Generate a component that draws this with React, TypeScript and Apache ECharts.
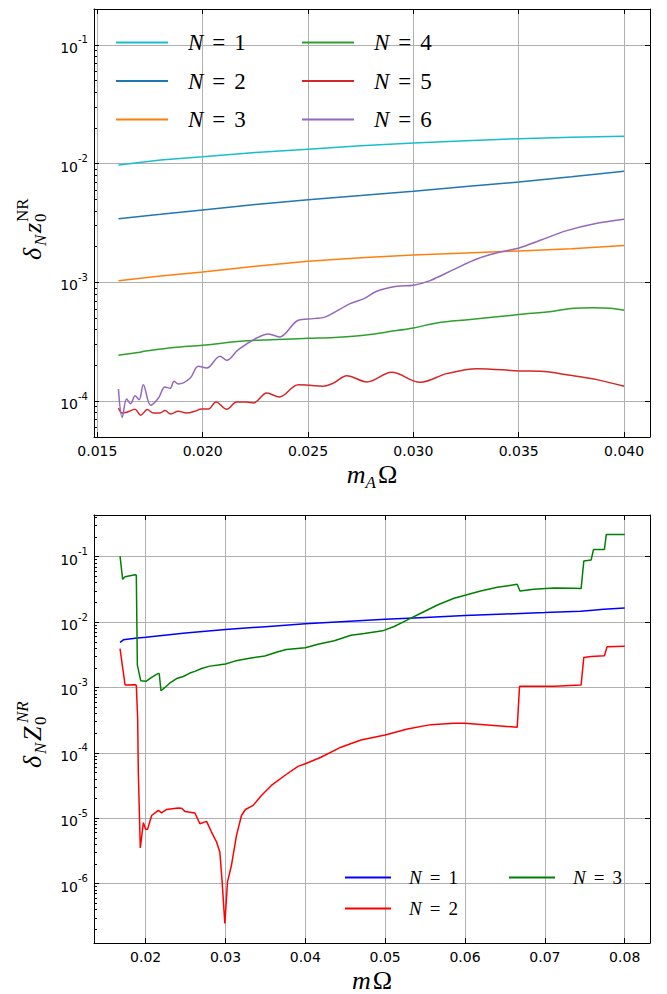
import React, { useEffect, useRef } from 'react';
import * as echarts from 'echarts';

// ---------- data: top panel (x = m_A Ω, y = δ_N z_0^NR) ----------
const topN1: [number, number][] = [
  [0.016, 0.00975], [0.018, 0.0107], [0.020, 0.0114], [0.0225, 0.0124], [0.025, 0.0132],
  [0.0275, 0.0141], [0.030, 0.0149], [0.0325, 0.0156], [0.035, 0.0162], [0.0375, 0.0167], [0.040, 0.0170],
];
const topN2: [number, number][] = [
  [0.016, 0.00344], [0.018, 0.00374], [0.020, 0.00407], [0.0225, 0.00452], [0.025, 0.00497],
  [0.0275, 0.00538], [0.030, 0.00585], [0.0325, 0.0064], [0.035, 0.00701], [0.0375, 0.00775], [0.040, 0.00861],
];
const topN3: [number, number][] = [
  [0.016, 0.001035], [0.018, 0.00113], [0.020, 0.001225], [0.0225, 0.00137], [0.025, 0.00151],
  [0.0275, 0.00161], [0.030, 0.0017], [0.0325, 0.00177], [0.035, 0.00184], [0.0375, 0.00192], [0.040, 0.00204],
];
const topN4: [number, number][] = [
  [0.016, 0.000244], [0.01704, 0.000258], [0.0172, 0.000263], [0.01783, 0.000272], [0.01863, 0.000283],
  [0.020, 0.000296], [0.02099, 0.000309], [0.02178, 0.000319], [0.02258, 0.000326], [0.02417, 0.000334],
  [0.025, 0.000339], [0.02606, 0.000343], [0.02715, 0.000352], [0.02794, 0.000364], [0.02874, 0.000383],
  [0.030, 0.000414], [0.03111, 0.000456], [0.0327, 0.000487], [0.035, 0.000536], [0.03665, 0.000572],
  [0.0376, 0.000606], [0.03855, 0.000613], [0.03934, 0.000606], [0.040, 0.000582],
];
const topN5: [number, number][] = [
  [0.016, 8.78e-5], [0.01618, 7.96e-5], [0.01639, 8.07e-5], [0.01679, 8.55e-5], [0.01705, 7.61e-5],
  [0.01737, 8.5e-5], [0.01766, 7.96e-5], [0.01797, 7.96e-5], [0.01821, 8.34e-5], [0.01848, 7.81e-5],
  [0.01884, 8.23e-5], [0.01924, 7.96e-5], [0.01963, 8.23e-5], [0.01995, 8.61e-5], [0.02027, 8.61e-5],
  [0.02063, 9.86e-5], [0.02114, 8.55e-5], [0.02161, 9.86e-5], [0.02209, 9.86e-5], [0.0224, 9.67e-5],
  [0.02304, 1.174e-4], [0.02364, 1.086e-4], [0.02454, 1.379e-4], [0.0251, 1.36e-4], [0.0257, 1.34e-4],
  [0.0262, 1.42e-4], [0.02684, 1.642e-4], [0.02779, 1.453e-4], [0.02897, 1.751e-4], [0.03032, 1.443e-4],
  [0.03158, 1.707e-4], [0.03301, 1.881e-4], [0.03502, 1.798e-4], [0.03602, 1.786e-4], [0.03744, 1.653e-4],
  [0.03871, 1.52e-4], [0.040, 1.335e-4],
];
const topN6: [number, number][] = [
  [0.016, 1.269e-4], [0.01618, 7.32e-5], [0.01639, 1.045e-4], [0.01658, 9.54e-5], [0.01679, 1.114e-4],
  [0.01698, 1.031e-4], [0.01718, 1.379e-4], [0.01753, 9.24e-5], [0.0179, 1.065e-4], [0.01821, 1.318e-4],
  [0.01845, 1.285e-4], [0.01864, 1.472e-4], [0.01884, 1.397e-4], [0.0194, 1.56e-4], [0.01979, 1.968e-4],
  [0.02019, 1.905e-4], [0.02082, 2.389e-4], [0.02114, 2.211e-4], [0.02169, 2.718e-4], [0.02256, 3.407e-4],
  [0.02312, 3.683e-4], [0.02364, 3.475e-4], [0.02454, 4.8e-4], [0.02525, 4.957e-4], [0.0258, 5.1e-4],
  [0.027, 6.63e-4], [0.02763, 7.26e-4], [0.02826, 8.42e-4], [0.02921, 9.28e-4], [0.030, 9.46e-4],
  [0.03079, 1.036e-3], [0.0319, 1.281e-3], [0.03301, 1.576e-3], [0.03412, 1.805e-3], [0.03502, 1.95e-3],
  [0.03602, 2.263e-3], [0.03728, 2.729e-3], [0.03855, 3.105e-3], [0.040, 3.399e-3],
];

// ---------- data: bottom panel (x = mΩ, y = δ_N Z_0^NR) ----------
const botN1: [number, number][] = [
  [0.01679, 0.00488], [0.01721, 0.00535], [0.01867, 0.00567], [0.020, 0.00588], [0.025, 0.0068],
  [0.030, 0.00769], [0.035, 0.0085], [0.040, 0.00939], [0.045, 0.0102], [0.050, 0.01106], [0.055, 0.0118],
  [0.060, 0.01259], [0.065, 0.0133], [0.070, 0.01397], [0.07446, 0.01465], [0.076, 0.0152],
  [0.07738, 0.01571], [0.080, 0.01647],
];
const botN2: [number, number][] = [
  [0.01679, 0.00394], [0.01742, 0.00109], [0.01867, 0.0011], [0.01883, 0.00108], [0.019, 0.00033],
  [0.01908, 5.06e-5], [0.01933, 3.5e-6], [0.01971, 8.53e-6], [0.020, 6.75e-6], [0.02025, 6.8e-6],
  [0.02075, 1.1e-5], [0.02158, 1.32e-5], [0.022, 1.21e-5], [0.02263, 1.36e-5], [0.02408, 1.43e-5],
  [0.0245, 1.42e-5], [0.02492, 1.27e-5], [0.02617, 1.2e-5], [0.02679, 8.24e-6], [0.02763, 8.94e-6],
  [0.02825, 6.14e-6], [0.02888, 4.32e-6], [0.02929, 3.04e-6], [0.02958, 1.06e-6], [0.02992, 2.45e-7],
  [0.03025, 1.06e-6], [0.03075, 1.91e-6], [0.03138, 5.47e-6], [0.032, 1.1e-5], [0.0325, 1.36e-5],
  [0.03346, 1.57e-5], [0.0345, 2.23e-5], [0.03575, 3.17e-5], [0.03742, 4.5e-5], [0.03908, 6.2e-5],
  [0.040, 6.8e-5], [0.04196, 8.57e-5], [0.04446, 1.22e-4], [0.04696, 1.57e-4], [0.050, 1.88e-4],
  [0.05279, 2.32e-4], [0.05571, 2.7e-4], [0.05863, 2.83e-4], [0.060, 2.83e-4], [0.06279, 2.67e-4],
  [0.06654, 2.46e-4], [0.06683, 1.04e-3], [0.07113, 1.04e-3], [0.07454, 1.09e-3], [0.07488, 2.88e-3],
  [0.07579, 2.98e-3], [0.07746, 3.05e-3], [0.07779, 4.18e-3], [0.080, 4.28e-3],
];
const botN3: [number, number][] = [
  [0.01679, 0.102], [0.01712, 0.0451], [0.01742, 0.0495], [0.01867, 0.0531], [0.01883, 0.052],
  [0.01896, 0.0022], [0.01938, 0.00127], [0.02004, 0.00124], [0.02075, 0.00143], [0.02158, 0.00164],
  [0.0217, 0.00162], [0.02192, 0.000891], [0.02242, 0.001], [0.02304, 0.00117], [0.02388, 0.00137],
  [0.02471, 0.00147], [0.02554, 0.00166], [0.02617, 0.00176], [0.027, 0.00195], [0.02804, 0.00212],
  [0.02908, 0.0022], [0.030, 0.00228], [0.03117, 0.00253], [0.03283, 0.00278], [0.03492, 0.00302],
  [0.03658, 0.00351], [0.03763, 0.00381], [0.040, 0.00405], [0.04158, 0.00459], [0.04363, 0.00517],
  [0.04571, 0.0063], [0.04738, 0.00668], [0.04967, 0.00734], [0.05113, 0.00855], [0.05279, 0.0108],
  [0.05446, 0.01366], [0.05654, 0.01828], [0.05863, 0.0231], [0.060, 0.0257], [0.06196, 0.0299],
  [0.06404, 0.034], [0.06654, 0.0378], [0.06688, 0.0299], [0.06863, 0.0318], [0.07113, 0.0333],
  [0.07363, 0.0329], [0.07454, 0.0325], [0.07488, 0.0859], [0.07579, 0.0889], [0.0761, 0.129],
  [0.07746, 0.129], [0.0777, 0.219], [0.080, 0.219],
];

const topNames = ['N=1', 'N=2', 'N=3', 'N=4', 'N=5', 'N=6'];
const topColors = ['#17becf', '#1f77b4', '#ff7f0e', '#2ca02c', '#d62728', '#9467bd'];
const botNames = ['bottom N=1', 'bottom N=2', 'bottom N=3'];
const botColors = ['#0000ff', '#ff0000', '#008000'];

// axis ranges
const topXRange = [0.01484, 0.04123];
const topYRange = [5e-5, 0.2];
const botXRange = [0.01353, 0.08317];
const botYRange = [1.233e-7, 0.4345];

const SERIF = '"Liberation Serif", "DejaVu Serif", serif';
const SANS = '"DejaVu Sans", sans-serif';

function logLabel(v: number) {
  const l = Math.log10(v);
  const e = Math.round(l);
  if (Math.abs(l - e) > 1e-6) return '';
  return `{b|10}{s|${e}}`;
}
const logRich = {
  b: { fontFamily: SANS, fontSize: 14, lineHeight: 20, verticalAlign: 'bottom', color: '#000' },
  s: { fontFamily: SANS, fontSize: 10, lineHeight: 11, verticalAlign: 'top', color: '#000' },
};
function xFmt(step: number, dec: number) {
  return (v: number) => (Math.abs(v / step - Math.round(v / step)) < 1e-6 ? v.toFixed(dec) : '');
}

const black = { color: '#000', width: 1 };
const gridLine = { show: true, lineStyle: { color: '#b0b0b0', width: 1 } };

function xAxes(gi: number, range: number[], fmt: (v: number) => string, name: string, rich: any) {
  return [
    {
      gridIndex: gi, type: 'value', min: range[0], max: range[1], position: 'bottom',
      axisLine: { onZero: false, lineStyle: black },
      axisTick: { inside: true, length: 5, lineStyle: black },
      axisLabel: { formatter: fmt, fontFamily: SANS, fontSize: 14, color: '#000', margin: 7 },
      splitLine: gridLine,
      name, nameLocation: 'middle', nameGap: 24, nameTextStyle: { rich },
    },
    {
      gridIndex: gi, type: 'value', min: range[0], max: range[1], position: 'top',
      axisLine: { onZero: false, lineStyle: black },
      axisTick: { inside: true, length: 5, lineStyle: black },
      axisLabel: { show: false }, splitLine: { show: false },
    },
  ];
}
function yAxes(gi: number, range: number[]) {
  return [
    {
      gridIndex: gi, type: 'log', logBase: 10, min: range[0], max: range[1], position: 'left',
      axisLine: { onZero: false, lineStyle: black },
      axisTick: { inside: true, length: 5, lineStyle: black },
      minorTick: { show: true, splitNumber: 9, length: 3, lineStyle: black },
      axisLabel: { formatter: logLabel, rich: logRich, margin: 6 },
      splitLine: gridLine,
    },
    {
      gridIndex: gi, type: 'log', logBase: 10, min: range[0], max: range[1], position: 'right',
      axisLine: { onZero: false, lineStyle: black },
      axisTick: { inside: true, length: 5, lineStyle: black },
      axisLabel: { show: false }, splitLine: { show: false },
    },
  ];
}

function legendRich(fs: number, lh: number, lead: number, gap: number) {
  return {
    n: { fontFamily: SERIF, fontStyle: 'italic', fontSize: fs, lineHeight: lh, padding: [0, 0, 0, lead], color: '#000' },
    e: { fontFamily: SERIF, fontSize: fs, lineHeight: lh, padding: [0, gap, 0, gap], color: '#000' },
    d: { fontFamily: SERIF, fontSize: fs, lineHeight: lh, color: '#000' },
  };
}
const legendFmt = (name: string) => `{n|N}{e|=}{d|${name.slice(-1)}}`;

function legendBox(data: string[], left: number, top: number, w: number, gap: number, rich: any) {
  return {
    data, orient: 'vertical', left, top, padding: 0, icon: 'rect',
    itemWidth: w, itemHeight: 2, itemGap: gap, formatter: legendFmt,
    textStyle: { rich }, selectedMode: false,
  };
}

function titleText(text: string, x: number, y: number, size: number, italic: boolean) {
  return {
    type: 'text', x, y,
    style: {
      text, fill: '#000', fontFamily: SERIF, fontSize: size, fontStyle: italic ? 'italic' : 'normal',
      align: 'left', verticalAlign: 'middle',
    },
  };
}

export default function App() {
  const ref = useRef<HTMLDivElement>(null);
  useEffect(() => {
    if (!ref.current) return;
    const chart = echarts.init(ref.current, undefined, { renderer: 'svg' });
    const topData = [topN1, topN2, topN3, topN4, topN5, topN6];
    const botData = [botN1, botN2, botN3];
    const series: any[] = [];
    topData.forEach((d, i) => {
      series.push({
        type: 'line', name: topNames[i], data: d, xAxisIndex: 0, yAxisIndex: 0,
        symbol: 'none', showSymbol: false, smooth: i >= 3 ? 0.35 : false,
        lineStyle: { color: topColors[i], width: 1.5 }, itemStyle: { color: topColors[i] },
      });
    });
    botData.forEach((d, i) => {
      series.push({
        type: 'line', name: botNames[i], data: d, xAxisIndex: 2, yAxisIndex: 2,
        symbol: 'none', showSymbol: false,
        lineStyle: { color: botColors[i], width: 1.5 }, itemStyle: { color: botColors[i] },
      });
    });
    const xNameRich = {
      m: { fontFamily: SERIF, fontStyle: 'italic', fontSize: 26, lineHeight: 30, verticalAlign: 'top', color: '#000' },
      a: { fontFamily: SERIF, fontStyle: 'italic', fontSize: 17, lineHeight: 18, verticalAlign: 'bottom', color: '#000' },
      o: { fontFamily: SERIF, fontSize: 26, lineHeight: 30, verticalAlign: 'top', color: '#000', padding: [0, 0, 0, 2] },
    };
    const topRich = legendRich(23, 24, 15, 9);
    const botRich = legendRich(19, 20, 13, 8);
    const option: any = {
      animation: false,
      grid: [
        { left: 94, right: 17, top: 9, height: 428 },
        { left: 94, right: 17, top: 515, height: 429 },
      ],
      xAxis: [
        ...xAxes(0, topXRange, xFmt(0.005, 3), '{m|m}{a|A}{o|Ω}', xNameRich),
        ...xAxes(1, botXRange, xFmt(0.01, 2), '{m|m}{o|Ω}', xNameRich),
      ],
      yAxis: [...yAxes(0, topYRange), ...yAxes(1, botYRange)],
      legend: [
        legendBox(topNames.slice(0, 3), 116, 31, 52, 15.5, topRich),
        legendBox(topNames.slice(3, 6), 302, 31, 52, 15.5, topRich),
        legendBox(botNames.slice(0, 2), 345, 868, 46, 12, botRich),
        legendBox(botNames.slice(2, 3), 509, 868, 46, 12, botRich),
      ],
      graphic: [
        {
          type: 'group', x: 32, y: 226, rotation: Math.PI / 2,
          children: [
            titleText('δ', -34, 0, 26, true),
            titleText('N', -20, 8, 17, true),
            titleText('z', -7, 0, 26, true),
            titleText('0', 4, 8, 17, false),
            titleText('NR', 4, -10, 17, false),
          ],
        },
        {
          type: 'group', x: 32, y: 730, rotation: Math.PI / 2,
          children: [
            titleText('δ', -38, 0, 26, true),
            titleText('N', -24, 8, 17, true),
            titleText('Z', -11, 0, 26, true),
            titleText('0', 5, 8, 17, false),
            titleText('NR', 7, -10, 17, true),
          ],
        },
      ],
      series,
    };
    chart.setOption(option);
    return () => chart.dispose();
  }, []);
  return <div ref={ref} style={{ position: 'fixed', left: 0, top: 0, width: 667, height: 994, background: '#fff' }} />;
}
